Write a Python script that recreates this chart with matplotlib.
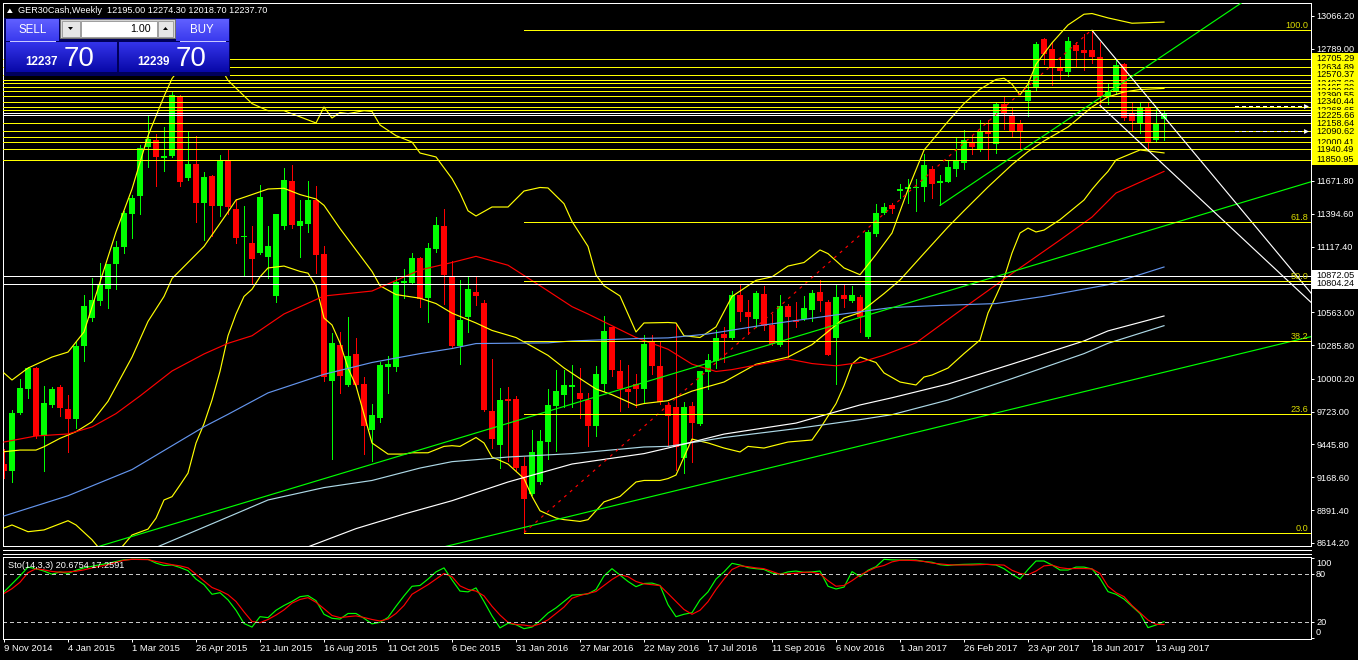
import matplotlib
matplotlib.use('Agg')
import matplotlib.pyplot as plt
from matplotlib.colors import LinearSegmentedColormap
from matplotlib.patches import Rectangle, Polygon
import numpy as np

plt.rcParams['font.family'] = ['Liberation Sans', 'DejaVu Sans']

# weekly candles, first bar = week of 9 Nov 2014, last = week of 20 Aug 2017
opens = [
    9284, 9217, 9715, 9911, 10093, 9519, 9776, 9932, 9745, 9664,
    10274, 10515, 10660, 10762, 10968, 11118, 11396, 11541, 11958, 12018,
    11870, 11879, 12386, 11698, 11813, 11487, 11713, 11457, 11843, 11435,
    11200, 11149, 11067, 11028, 10696, 11291, 11671, 11294, 11309, 11511,
    11052, 9978, 10289, 9951, 10207, 9957, 9570, 9670, 10099, 10099,
    10811, 10811, 11022, 10680, 11097, 11291, 10862, 10274, 10521, 10733,
    10642, 9730, 9444, 9827, 9830, 9263, 9030, 9127, 9465, 9767,
    9866, 9927, 9881, 9821, 9604, 9957, 10434, 10062, 9911, 9957,
    9917, 10310, 10108, 9782, 9760, 9332, 9770, 9616, 10056, 10147,
    10379, 10349, 10711, 10566, 10506, 10720, 10455, 10289, 10615, 10494,
    10506, 10584, 10732, 10651, 10349, 10711, 10660, 10690, 10355, 11224,
    11405, 11466, 11586, 11601, 11610, 11617, 11773, 11656, 11662, 11773,
    11828, 12000, 11943, 12090, 11988, 12326, 12220, 12154, 12347, 12462,
    12869, 12788, 12634, 12591, 12824, 12779, 12779, 12718, 12392, 12432,
    12658, 12250, 12160, 12296, 12015, 12195.00]
highs = [
    9404, 9736, 9996, 10099, 10099, 9941, 9935, 9948, 9866, 10310,
    10711, 10853, 10983, 10974, 11164, 11420, 11550, 11978, 12220, 12069,
    12130, 12420, 12401, 12084, 12054, 11752, 11722, 11888, 11933, 11520,
    11457, 11291, 11638, 11294, 11396, 11782, 11807, 11511, 11671, 11632,
    11119, 10388, 10394, 10521, 10349, 10017, 9791, 10138, 10192, 10862,
    10931, 11064, 11030, 11149, 11369, 11435, 10998, 10832, 10862, 10862,
    10666, 10168, 9926, 9932, 9857, 9338, 9564, 9564, 9911, 10077,
    10077, 10117, 10093, 9881, 10107, 10530, 10440, 10159, 10117, 10038,
    10373, 10373, 10319, 9806, 10460, 9806, 9806, 10070, 10207, 10409,
    10440, 10741, 10801, 10666, 10741, 10787, 10545, 10711, 10636, 10651,
    10702, 10750, 10838, 10666, 10802, 10802, 10787, 10711, 11254, 11481,
    11487, 11487, 11646, 11692, 11692, 11897, 11798, 11722, 11849, 12033,
    12105, 12063, 12184, 12190, 12341, 12392, 12296, 12190, 12513, 12845,
    12880, 12845, 12718, 12890, 12845, 12914, 12945, 12845, 12492, 12703,
    12673, 12335, 12332, 12335, 12287, 12274.30]
lows = [
    9163, 9127, 9706, 9836, 9500, 9217, 9760, 9685, 9383, 9585,
    10147, 10491, 10621, 10600, 10762, 11064, 11194, 11396, 11789, 11626,
    11758, 11873, 11632, 11677, 11324, 11173, 11209, 11375, 11396, 11149,
    10868, 10802, 11058, 10853, 10651, 11269, 11276, 11028, 11239, 10892,
    9978, 9323, 9881, 9942, 9942, 9362, 9302, 9634, 9881, 10068,
    10681, 10802, 10606, 10480, 11073, 10636, 10259, 10123, 10394, 10621,
    9730, 9414, 9248, 9308, 9233, 8704, 9021, 9112, 9323, 9392,
    9760, 9760, 9670, 9434, 9519, 9896, 10026, 9730, 9760, 9760,
    9806, 10038, 9791, 9429, 9232, 9202, 9293, 9610, 9917, 10092,
    10140, 10340, 10485, 10379, 10440, 10409, 10289, 10274, 10183, 10440,
    10500, 10485, 10575, 10198, 9957, 10606, 10650, 10394, 10349, 11209,
    11390, 11400, 11526, 11487, 11420, 11505, 11526, 11466, 11660, 11716,
    11777, 11903, 11924, 11858, 11912, 12115, 12054, 11940, 12220, 12432,
    12658, 12483, 12537, 12561, 12643, 12612, 12673, 12311, 12320, 12410,
    12190, 12100, 12078, 11940, 12009, 12018.70]
closes = [
    9217, 9715, 9926, 10093, 9513, 9797, 9911, 9751, 9664, 10274,
    10612, 10666, 10793, 10968, 11118, 11405, 11532, 11949, 12024, 11873,
    11879, 12401, 11662, 11813, 11487, 11707, 11460, 11849, 11451, 11194,
    11210, 11013, 11535, 11119, 11396, 11683, 11300, 11330, 11511, 11049,
    10017, 10304, 10026, 10192, 9951, 9604, 9694, 10117, 10129, 10817,
    10826, 11022, 10675, 11109, 11300, 10877, 10274, 10500, 10757, 10702,
    9736, 9489, 9821, 9812, 9248, 8982, 9383, 9474, 9782, 9896,
    9948, 9948, 9827, 9604, 10041, 10403, 10077, 9911, 9887, 9917,
    10295, 10108, 9800, 9685, 9428, 9760, 9625, 10062, 10159, 10349,
    10349, 10711, 10566, 10524, 10726, 10446, 10298, 10615, 10521, 10476,
    10599, 10726, 10657, 10204, 10690, 10672, 10711, 10521, 11239, 11399,
    11450, 11436, 11607, 11622, 11622, 11807, 11647, 11668, 11789, 11837,
    12018, 11955, 12090, 12069, 12326, 12235, 12093, 12084, 12438, 12830,
    12749, 12634, 12603, 12854, 12769, 12757, 12718, 12380, 12432, 12652,
    12205, 12175, 12296, 12003, 12166, 12237.70]

date_labels = ['9 Nov 2014', '4 Jan 2015', '1 Mar 2015', '26 Apr 2015', '21 Jun 2015',
               '16 Aug 2015', '11 Oct 2015', '6 Dec 2015', '31 Jan 2016', '27 Mar 2016',
               '22 May 2016', '17 Jul 2016', '11 Sep 2016', '6 Nov 2016', '1 Jan 2017',
               '26 Feb 2017', '23 Apr 2017', '18 Jun 2017', '13 Aug 2017']

bb_up_bars = [0, 1, 3, 6, 8, 10, 12, 14, 16, 18, 20, 21, 23, 25, 27, 28, 31, 33, 35, 39,
              40, 41, 42, 43, 45, 46, 47, 49, 51, 52, 54, 56, 57, 58, 59, 61, 63, 65, 67, 68,
              70, 71, 73, 74, 75, 77, 79, 80, 83, 84, 85, 87, 89, 91, 94, 96, 98, 100, 102, 103,
              105, 107, 109, 111, 113, 115, 118, 120, 122, 124, 125, 126, 127, 128, 129, 131, 133, 135, 136, 138,
              141, 145]
bb_up_vals = [10049, 9990, 10091, 10184, 10226, 10396, 10818, 11241, 11604, 12054,
              12387, 12537, 12720, 12760, 12640, 12522, 12326, 12266, 12266, 12162,
              12297, 12204, 12251, 12241, 12266, 12260, 12145, 12055, 12001, 11908,
              11875, 11692, 11570, 11420, 11376, 11452, 11452, 11587, 11617, 11613,
              11480, 11330, 11119, 10877, 10787, 10700, 10396, 10472, 10476, 10472,
              10364, 10349, 10439, 10696, 10832, 10862, 10953, 10983, 11089, 11058,
              10937, 10880, 11050, 11232, 11600, 11933, 12175, 12326, 12447, 12530,
              12540, 12490, 12400, 12490, 12658, 12839, 12990, 13081, 13087, 13050,
              13005, 13015]
bb_mid_bars = [0, 2, 4, 5, 7, 9, 11, 13, 16, 18, 20, 21, 25, 28, 29, 31, 33, 35, 37, 39,
               40, 42, 44, 46, 47, 49, 52, 54, 56, 59, 61, 64, 66, 68, 70, 72, 74, 76, 79, 80,
               83, 86, 90, 94, 98, 101, 104, 105, 107, 110, 112, 115, 118, 120, 123, 126, 128, 130, 133, 136,
               138, 140, 142, 145]
bb_mid_vals = [9384, 9398, 9398, 9426, 9497, 9553, 9637, 9810, 10183, 10485,
               10696, 10847, 11119, 11410, 11511, 11557, 11604, 11610, 11557, 11520,
               11466, 11270, 11089, 10908, 10787, 10712, 10681, 10636, 10555, 10472,
               10409, 10349, 10274, 10198, 10092, 10002, 9914, 9866, 9775, 9791,
               9815, 9896, 9973, 10123, 10184, 10289, 10455, 10514, 10560, 10720,
               10835, 11060, 11283, 11420, 11621, 11810, 11920, 12010, 12128, 12297,
               12382, 12424, 12445, 12454]
bb_low_bars = [0, 1, 3, 5, 8, 9, 11, 12, 13, 14, 15, 16, 18, 19, 20, 21, 22, 23, 24, 25,
               26, 27, 28, 29, 30, 31, 32, 33, 35, 37, 38, 39, 40, 41, 42, 43, 44, 45, 46, 48,
               50, 51, 53, 55, 56, 57, 59, 60, 61, 63, 65, 66, 67, 69, 70, 72, 73, 74, 75, 77,
               79, 80, 82, 83, 84, 85, 86, 87, 88, 90, 92, 93, 95, 98, 101, 102, 104, 105, 106, 107,
               109, 110, 112, 114, 115, 116, 118, 120, 122, 123, 124, 125, 126, 127, 128, 129, 130, 132, 135, 136,
               137, 138, 139, 142, 145]
bb_low_vals = [8739, 8765, 8708, 8723, 8801, 8765, 8640, 8560, 8500, 8520,
               8600, 8680, 8730, 8822, 8976, 9004, 9102, 9203, 9457, 9620,
               9821, 10063, 10364, 10548, 10696, 10757, 10862, 10937, 10953, 10908,
               10893, 10787, 10514, 10455, 10303, 10092, 9942, 9700, 9458, 9364,
               9364, 9375, 9375, 9429, 9435, 9429, 9504, 9458, 9339, 9280,
               9157, 9006, 8885, 8824, 8810, 8795, 8810, 8885, 8960, 9006,
               9128, 9141, 9141, 9157, 9187, 9339, 9491, 9474, 9458, 9415,
               9382, 9429, 9415, 9466, 9483, 9579, 9790, 9942, 10125, 10184,
               10138, 10050, 9973, 9948, 10015, 10032, 10091, 10213, 10328, 10556,
               10700, 10850, 11063, 11232, 11274, 11241, 11257, 11345, 11511, 11601,
               11680, 11753, 11850, 11934, 11909]

# moving averages
ma_red_bars = [0, 4, 8, 11, 14, 17, 21, 25, 28, 31, 35, 40, 46, 52, 56, 59, 63, 67, 71, 73,
               79, 83, 86, 89, 91, 95, 98, 101, 104, 107, 110, 114, 120, 126, 132, 136, 139, 145]
ma_red_vals = [9466, 9517, 9534, 9593, 9706, 9855, 10066, 10210, 10300, 10364,
               10548, 10700, 10742, 10920, 10983, 11035, 10960, 10787, 10610, 10548,
               10349, 10250, 10124, 10062, 10078, 10129, 10168, 10129, 10110, 10138,
               10200, 10304, 10600, 10890, 11173, 11367, 11570, 11753]
ma_blue_bars = [0, 8, 16, 25, 28, 33, 40, 46, 52, 56, 59, 68, 71, 79, 83, 88, 95, 103, 111, 117,
                124, 130, 138, 145]
ma_blue_vals = [8841, 9012, 9233, 9595, 9700, 9881, 10038, 10138, 10213, 10256,
                10298, 10304, 10320, 10340, 10346, 10379, 10455, 10531, 10603, 10620,
                10636, 10697, 10795, 10945]
ma_lblue_bars = [19, 28, 33, 40, 46, 52, 56, 63, 71, 80, 83, 90, 99, 107, 111, 118, 126, 135, 138, 145]
ma_lblue_vals = [8575, 8832, 8976, 9081, 9141, 9246, 9300, 9339, 9368, 9424,
                 9429, 9504, 9579, 9655, 9697, 9821, 10002, 10213, 10300, 10449]
ma_white_bars = [38, 44, 50, 56, 63, 71, 80, 83, 90, 99, 107, 111, 118, 126, 135, 138, 145]
ma_white_vals = [8580, 8734, 8857, 8970, 9128, 9280, 9368, 9415, 9533, 9626,
                 9779, 9840, 9956, 10125, 10320, 10405, 10531]

# stochastic 14,3,3
stoch_k = [58, 68, 78, 89, 87, 84, 80, 83, 81, 85, 88, 90, 92, 93.5, 96, 98, 98.7, 98.7, 98.7, 94,
           91, 91.6, 88.5, 84.5, 74, 67, 55, 57, 48, 35, 18.5, 14, 27, 25.8, 35, 41, 46, 52, 53.3, 47,
           30, 25, 24, 31, 31, 25, 18, 20, 26, 40, 53, 65, 66, 74, 83, 88, 73, 59, 58, 63,
           46, 28, 13, 18.7, 17, 12, 14, 22, 31.5, 38, 46, 54, 54.5, 55.5, 61, 78, 87, 79, 71, 64.5,
           68.5, 69, 66, 42, 27, 30, 32, 48, 58, 74, 83, 93.7, 91.6, 88.3, 87, 86, 81.5, 80, 83, 84,
           82.4, 83, 84, 65, 61.6, 64, 83.3, 77, 85, 89.5, 98.7, 98, 97.8, 97.8, 97.8, 96, 95, 92, 91, 92,
           92.4, 92.6, 92.9, 92.3, 91.6, 87, 80, 74.1, 86, 96.6, 96.6, 91.6, 85.3, 85.3, 89, 89, 86.6, 74.9, 58.3, 55,
           49, 40, 31, 13.3, 16.6, 20.6754]
stoch_d = [56, 62, 70, 82, 87, 85.5, 83.5, 82.6, 83, 83.8, 85.5, 88, 90, 92, 95, 97.5, 98.7, 98.5, 98.3, 96,
           94, 92, 90.5, 88, 80, 71.5, 63.5, 59.5, 54.5, 46, 33, 21, 19.5, 23.5, 29, 35.5, 44, 48.5, 50.8, 45,
           37, 28.5, 25.8, 27, 28, 26, 23.5, 21.6, 24, 31, 41, 55, 61, 67, 74, 81, 77, 65.5, 61, 59,
           53, 40, 29, 20, 17.2, 16.5, 15, 18, 23, 31, 39, 50, 53.5, 56, 58.5, 66, 73.5, 79.5, 77, 71,
           68, 67, 65.8, 56, 46, 36, 30, 35, 45.8, 61, 74, 86, 90.5, 89.5, 88, 87, 83.5, 80, 80.5, 81.3,
           82.5, 82.5, 80.5, 72, 65, 66, 72, 79, 84, 88.5, 91, 95.5, 97.5, 97.5, 97, 96, 94, 93, 92, 91.6,
           91.6, 91.6, 92, 92.4, 92, 91.5, 85, 81, 79.5, 84, 90.5, 91.5, 88.3, 87, 87.2, 87.2, 86.7, 81, 65, 57,
           52, 41, 32, 22.8, 17.4, 17.2591]

# objects on the chart
yellow_levels = [12705.29, 12634.89, 12570.37, 12523.08, 12497.60, 12465.30, 12429.80, 12390.55,
                 12340.44, 12298.00, 12268.65, 12225.66, 12158.64, 12090.62, 12047.80, 12000.41,
                 11940.49, 11850.95]
front_labels = [12705.29, 12570.37, 12340.44, 12225.66, 12158.64, 12090.62, 11940.49, 11850.95]
white_levels = [10872.05, 10804.24]
white_plain_levels = [12247.0, 12230.0]
arrow_levels = [12302.0, 12097.0]
green_lines = [((10, 8546), (164, 11678)), ((55, 8580), (164, 10367)), ((117, 11466), (164, 13600))]
white_diag_lines = [((136, 12945), (164, 10674)), ((137, 12311), (164, 10607))]
fib_bars = (65, 136)
fib_prices = (8699.3, 12951.5)
fib_levels = [0.0, 23.6, 38.2, 50.0, 61.8, 100.0]
price_ticks = [13066.2, 12789.0, 12511.8, 12234.6, 11949.0, 11671.8, 11394.6, 11117.4, 10840.2,
               10563.0, 10285.8, 10000.2, 9723.0, 9445.8, 9168.6, 8891.4, 8614.2]
bid, ask = 12237.70, 12239.70

W, H = 1358, 660
LW = 0.72      # 1 px
CLW = 0.85     # curves / slanted lines, anti-aliased
YEL = '#FFFF00'
fig = plt.figure(figsize=(W / 100, H / 100), dpi=100)
fig.patch.set_facecolor('black')


def px_rect(x0, y0, x1, y1):
    return [x0 / W, 1 - y1 / H, (x1 - x0) / W, (y1 - y0) / H]


ax = fig.add_axes(px_rect(2.5, 3, 1311, 546))
ax2 = fig.add_axes(px_rect(2.5, 557, 1311, 639))
ov = fig.add_axes([0, 0, 1, 1], zorder=10)

for a in (ax, ax2):
    a.set_facecolor('black')
    a.set_xlim(-0.1875, 163.375)
    for s in a.spines.values():
        s.set_color('white')
        s.set_linewidth(LW)
    a.yaxis.tick_right()
    a.tick_params(axis='y', colors='white', labelsize=6.6, length=2.2, width=LW, pad=1.6)

ax.set_ylim(8587.2, 13176.0)
ax.set_xticks([])
ax.set_yticks(price_ticks)
ax.set_yticklabels([f'{t:.2f}' for t in price_ticks])

# candles
idx = np.arange(len(closes))
o, h, l, c = map(np.array, (opens, highs, lows, closes))
cols = np.where(c >= o, '#00FF00', '#FF0000')
ax.vlines(idx, l, h, colors=cols, lw=LW, antialiased=False, zorder=2)
ax.bar(idx, np.maximum(np.abs(c - o), 9), bottom=np.minimum(o, c), width=0.66,
       color=cols, linewidth=0, antialiased=False, zorder=2)

# indicators
for bx, vals, col in [(bb_up_bars, bb_up_vals, YEL), (bb_mid_bars, bb_mid_vals, YEL),
                      (bb_low_bars, bb_low_vals, YEL), (ma_red_bars, ma_red_vals, '#FF0000'),
                      (ma_blue_bars, ma_blue_vals, '#6495ED'), (ma_lblue_bars, ma_lblue_vals, '#ADD8E6'),
                      (ma_white_bars, ma_white_vals, '#FFFFFF')]:
    ax.plot(bx, vals, color=col, lw=CLW, zorder=3)

# horizontal lines
for p in yellow_levels:
    ax.axhline(p, color=YEL, lw=LW, antialiased=False, zorder=4)
for p in white_levels + white_plain_levels:
    ax.axhline(p, color='white', lw=LW, antialiased=False, zorder=4)
for p in arrow_levels:
    ax.plot([153.9, 162.4], [p, p], color='white', lw=LW, ls=(0, (4, 3)), antialiased=False, zorder=5)
    ax.plot([162.8], [p], marker='>', ms=3.5, color='white', mew=0, zorder=5)

# trend lines
for (x0, y0), (x1, y1) in green_lines:
    ax.plot([x0, x1], [y0, y1], color='#00FF00', lw=CLW, zorder=4)
for (x0, y0), (x1, y1) in white_diag_lines:
    ax.plot([x0, x1], [y0, y1], color='white', lw=CLW, zorder=4)

# fibonacci
f_lo, f_hi = fib_prices
ax.plot(fib_bars, fib_prices, color='#FF0000', lw=CLW, ls=(0, (2.5, 4)), zorder=4)
ytr = ax.get_yaxis_transform()
for lv in fib_levels:
    p = f_lo + (f_hi - f_lo) * lv / 100
    ax.hlines(p, fib_bars[0], 163.375, color=YEL, lw=LW, antialiased=False, zorder=4)
    ax.text(0.9978, p, f'{lv:.1f}', transform=ytr, ha='right', va='bottom',
            color='#DADA00', fontsize=6.6, zorder=5)

# price labels on the axis
box_h = 93
z = 20
for p in [q for q in yellow_levels if q not in front_labels] + front_labels:
    ax.add_patch(Rectangle((1.0008, p - box_h / 2), 0.0352, box_h, transform=ytr,
                           facecolor=YEL, edgecolor='none', clip_on=False, zorder=z))
    ax.text(1.0038, p, f'{p:.2f}', transform=ytr, ha='left', va='center', color='black',
            fontsize=6.6, clip_on=False, zorder=z + 1)
    z += 2
for p in white_levels:
    ax.add_patch(Rectangle((1.0008, p - box_h / 2), 0.0352, box_h, transform=ytr,
                           facecolor='white', edgecolor='none', clip_on=False, zorder=z))
    ax.text(1.0038, p, f'{p:.2f}', transform=ytr, ha='left', va='center', color='black',
            fontsize=6.6, clip_on=False, zorder=z + 1)
    z += 2

# stochastic panel
ax2.set_ylim(-0.9, 101.6)
ax2.plot(idx, stoch_k, color='#00FF00', lw=CLW)
ax2.plot(idx, stoch_d, color='#FF0000', lw=CLW)
for lv in (80, 20):
    ax2.axhline(lv, color='#C8C8C8', lw=LW, ls=(0, (4, 4)), antialiased=False)
ax2.set_yticks([100, 80, 20, 0])
ax2.set_yticklabels([])
ax2.set_xticks(np.arange(0, len(closes), 8))
ax2.set_xticklabels(date_labels)
ax2.tick_params(axis='x', colors='white', labelsize=6.8, length=2.2, width=LW, pad=1.5)
for t in ax2.get_xticklabels():
    t.set_ha('left')

# overlay: window texts and one-click trading panel
ov.axis('off')


def grad_box(x0, y0, x1, y1, top, bottom):
    cm = LinearSegmentedColormap.from_list('g', [top, bottom])
    ov.imshow(np.linspace(0, 1, 32).reshape(-1, 1), cmap=cm, aspect='auto',
              extent=(x0, x1, y1, y0), interpolation='bilinear', zorder=2)


ov.text(18.3, 10.7, f'GER30Cash,Weekly  {opens[-1]:.2f} {highs[-1]:.2f} {lows[-1]:.2f} {closes[-1]:.2f}',
        color='white', fontsize=6.6, va='center', ha='left')
ov.add_patch(Polygon([(7, 13), (12.7, 13), (9.85, 8.5)], closed=True, fc='white', ec='none'))
ov.text(8, 566, f'Sto(14,3,3) {stoch_k[-1]:.4f} {stoch_d[-1]:.4f}', color='white',
        fontsize=6.6, va='center', ha='left')
for s, yy in [('100', 563.3), ('80', 574.3), ('20', 622.3), ('0', 632.7)]:
    ov.text(1316, yy, s, color='white', fontsize=6.6, va='center', ha='left')

ov.add_patch(Rectangle((4, 18), 226, 58, fc='#00005A', ec='none', zorder=1))
grad_box(6, 19.5, 58.5, 41.5, '#6060FF', '#3A3AEE')
grad_box(176, 19.5, 228.5, 41.5, '#6060FF', '#3A3AEE')
grad_box(6, 42.5, 116.5, 72, '#3434EA', '#0808A8')
grad_box(119, 42.5, 228.5, 72, '#3434EA', '#0808A8')
ov.plot([10, 55], [40.5, 40.5], color='#C8C8FF', lw=LW, zorder=3)
ov.plot([180, 225], [40.5, 40.5], color='#C8C8FF', lw=LW, zorder=3)
ov.add_patch(Rectangle((60, 19), 114.5, 19, fc='#D4D4D4', ec='#707070', lw=LW, zorder=2))
ov.add_patch(Rectangle((81, 20.5), 75.5, 16, fc='white', ec='#A0A0A0', lw=LW, zorder=3))
ov.add_patch(Rectangle((61.5, 20.5), 18, 16, fc='#E6E6E6', ec='#A0A0A0', lw=LW, zorder=3))
ov.add_patch(Rectangle((158, 20.5), 15, 16, fc='#E6E6E6', ec='#A0A0A0', lw=LW, zorder=3))
ov.add_patch(Polygon([(68, 27), (73, 27), (70.5, 30)], closed=True, fc='black', ec='none', zorder=4))
ov.add_patch(Polygon([(163, 30), (168, 30), (165.5, 27)], closed=True, fc='black', ec='none', zorder=4))
ov.text(151, 28.5, '1.00', color='black', fontsize=7.7, ha='right', va='center', zorder=4)
ov.text(32.3, 30.3, 'SELL', color='white', fontsize=8.3, ha='center', va='center', zorder=4)
ov.text(202, 30.3, 'BUY', color='white', fontsize=8.3, ha='center', va='center', zorder=4)
for price, xs, xb in [(bid, 41, 79.5), (ask, 153, 191.5)]:
    big, small = f'{price:.2f}'.split('.')
    ov.text(xs, 65, big, color='white', fontsize=8.4, fontweight='bold', ha='center',
            va='baseline', zorder=4)
    ov.text(xb, 65.5, small, color='white', fontsize=20, ha='center', va='baseline', zorder=4)

# separators between the two windows
for yy in (549.5, 554):
    ov.plot([2.5, 1311], [yy, yy], color='white', lw=LW, antialiased=False)

ov.set_xlim(0, W)
ov.set_ylim(H, 0)

fig.savefig('out.png', dpi=100, facecolor='black')
